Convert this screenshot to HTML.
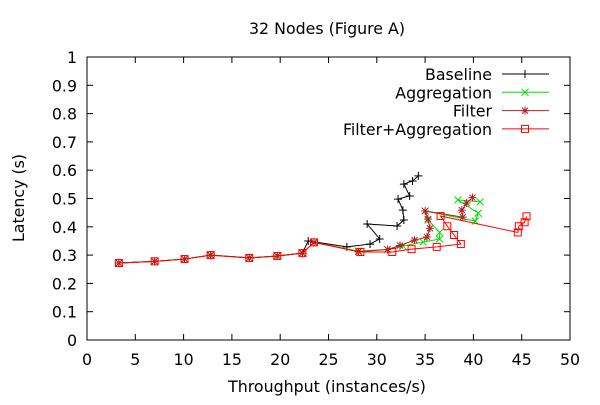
<!DOCTYPE html>
<html><head><meta charset="utf-8"><style>
body{margin:0;background:#fff}
svg text{font-family:"DejaVu Sans","Liberation Sans",sans-serif;font-size:15.8px;fill:#000}
</style></head><body>
<svg id="chart" width="600" height="400" xmlns="http://www.w3.org/2000/svg">
<rect width="600" height="400" fill="#fff"/>
<text x="327" y="34" text-anchor="middle">32 Nodes (Figure A)</text>
<text x="327" y="392" text-anchor="middle">Throughput (instances/s)</text>
<text transform="translate(24,198) rotate(-90)" text-anchor="middle">Latency (s)</text>
<g id="axes"></g>
<g id="series"></g>
<g id="legend"></g>
</svg>
<script>
const xTicks=[0,5,10,15,20,25,30,35,40,45,50];
const yTicks=[0,0.1,0.2,0.3,0.4,0.5,0.6,0.7,0.8,0.9,1];
const yTickLabels=["0","0.1","0.2","0.3","0.4","0.5","0.6","0.7","0.8","0.9","1"];
const seriesNames=["Baseline","Aggregation","Filter","Filter+Aggregation"];
const commonX=[3.3,7,10.1,12.8,16.8,19.7,22.3];
const commonY=[0.272,0.278,0.286,0.300,0.290,0.297,0.307];
const baselineX=[22.9,26.9,29.3,30.3,29.0,32.1,32.8,32.7,32.2,33.4,32.8,33.7,34.3];
const baselineY=[0.350,0.329,0.339,0.357,0.410,0.403,0.424,0.459,0.498,0.509,0.551,0.562,0.580];
const aggX=[23.5,28.1,31.1,32.7,34.8,36.5,36.5,35.3,35.0,40.2,40.5,38.4,40.7];
const aggY=[0.345,0.314,0.320,0.332,0.346,0.357,0.380,0.424,0.456,0.420,0.448,0.495,0.488];
const filterX=[23.5,28.1,31.1,32.4,33.9,35.2,35.5,35.3,35.0,38.9,38.8,39.3,39.9];
const filterY=[0.345,0.312,0.320,0.334,0.353,0.364,0.395,0.427,0.456,0.434,0.459,0.484,0.503];
const faX=[23.5,28.3,31.6,33.6,36.2,38.7,38.0,37.3,36.6,44.6,44.7,45.3,45.5];
const faY=[0.345,0.311,0.311,0.321,0.329,0.339,0.371,0.402,0.438,0.380,0.402,0.416,0.437];

const L=87,R=570,T=57,B=340;
const sx=v=>L+(v/50)*(R-L);
const sy=v=>B-v*(B-T);
const NS="http://www.w3.org/2000/svg";
function mk(tag,attrs,parent){const e=document.createElementNS(NS,tag);for(const k in attrs)e.setAttribute(k,attrs[k]);parent.appendChild(e);return e;}
const axes=document.getElementById('axes');
const frame=mk('rect',{x:L,y:T,width:R-L,height:B-T,fill:'none',stroke:'#000','stroke-width':1},axes);


xTicks.forEach(v=>{
  const x=sx(v);
  mk('line',{x1:x,y1:B,x2:x,y2:B-6,stroke:'#000'},axes);
  mk('line',{x1:x,y1:T,x2:x,y2:T+6,stroke:'#000'},axes);
  const t=mk('text',{x:x,y:B+25,'text-anchor':'middle'},axes);t.textContent=v;
  
  
});
yTicks.forEach((v,i)=>{
  const y=sy(v);
  mk('line',{x1:L,y1:y,x2:L+6,y2:y,stroke:'#000'},axes);
  mk('line',{x1:R,y1:y,x2:R-6,y2:y,stroke:'#000'},axes);
  const t=mk('text',{x:L-10,y:y+6,'text-anchor':'end'},axes);t.textContent=yTickLabels[i];
  
  
});
function marker(g,type,x,y,c){
  if(type==='plus'){mk('path',{d:`M${x-4} ${y}H${x+4}M${x} ${y-4}V${y+4}`,stroke:c,fill:'none'},g);}
  else if(type==='x'){mk('path',{d:`M${x-3.5} ${y-3.5}L${x+3.5} ${y+3.5}M${x-3.5} ${y+3.5}L${x+3.5} ${y-3.5}`,stroke:c,fill:'none'},g);}
  else if(type==='star'){mk('path',{d:`M${x-4} ${y}H${x+4}M${x} ${y-4}V${y+4}M${x-3} ${y-3}L${x+3} ${y+3}M${x-3} ${y+3}L${x+3} ${y-3}`,stroke:c,fill:'none'},g);}
  else {mk('rect',{x:x-3.5,y:y-3.5,width:7,height:7,stroke:c,fill:'none'},g);}
}
const sg=document.getElementById('series');
const defs=[
 {xs:baselineX,ys:baselineY,c:'#000',m:'plus',n:'baseline-series'},
 {xs:aggX,ys:aggY,c:'#00e000',m:'x',n:'aggregation-series'},
 {xs:filterX,ys:filterY,c:'#b22222',m:'star',n:'filter-series'},
 {xs:faX,ys:faY,c:'#ff0000',m:'square',n:'filter-aggregation-series'}];
defs.forEach(d=>{
  const g=mk('g',{},sg);
  
  
  const X=commonX.concat(d.xs),Y=commonY.concat(d.ys);
  const pts=X.map((v,i)=>sx(v)+','+sy(Y[i])).join(' ');
  mk('polyline',{points:pts,fill:'none',stroke:d.c,'stroke-width':1},g);
  X.forEach((v,i)=>marker(g,d.m,sx(v),sy(Y[i]),d.c));
});
const lg=document.getElementById('legend');
seriesNames.forEach((n,i)=>{
  const y=74+i*18.3;
  const g=mk('g',{},lg);
  
  
  const t=mk('text',{x:492,y:y+6,'text-anchor':'end'},g);t.textContent=n;
  mk('line',{x1:502,y1:y,x2:549,y2:y,stroke:defs[i].c},g);
  marker(g,defs[i].m,525,y,defs[i].c);
});
</script>
</body></html>
